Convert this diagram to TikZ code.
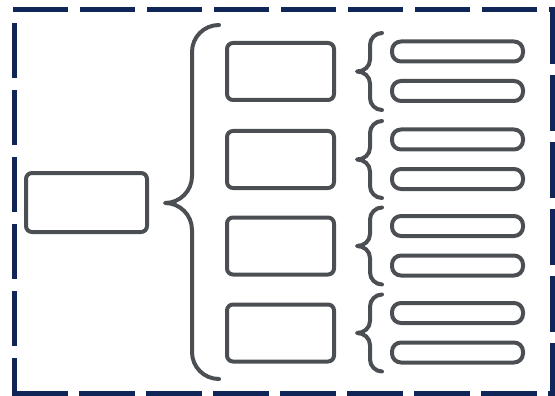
\documentclass[tikz,border=0pt]{standalone}
\definecolor{navy}{HTML}{102659}
\definecolor{shapegray}{HTML}{4B4E53}
\begin{document}
\begin{tikzpicture}[x=1pt,y=-1pt,
  frame/.style={draw=navy,line width=5pt},
  mbox/.style={draw=shapegray,line width=4pt,rounded corners=6pt,minimum width=107pt,minimum height=57pt,inner sep=0pt,outer sep=0pt},
  rootbox/.style={mbox,minimum width=121pt,minimum height=59pt},
  bar/.style={draw=shapegray,line width=4pt,rounded corners=9pt,minimum width=131pt,minimum height=20pt,inner sep=0pt,outer sep=0pt},
  brace/.style={draw=shapegray,line width=4pt,line cap=round,line join=round},
  smallbrace/.pic={\draw[brace] (12,-38.5) .. controls (5.5,-38.5) and (0,-33) .. (0,-26.5) -- (0,-12) .. controls (0,-5) and (-6,0) .. (-13,0) .. controls (-6,0) and (0,5) .. (0,12) -- (0,26.5) .. controls (0,33) and (5.5,38.5) .. (12,38.5);}
]
\useasboundingbox (0,0) rectangle (555,396);
% frame
\draw[frame,dash pattern=on 55pt off 12pt] (13,10) -- (555,10);
\draw[frame,dash pattern=on 56pt off 11pt] (552,8) -- (552,396);
\draw[frame,dash pattern=on 55pt off 12pt] (14,23) -- (14,396);
\draw[frame,dash pattern=on 56pt off 11pt] (12,393) -- (555,393);
% root
\node[rootbox] (root) at (86.5,202.5) {};
% big brace
\draw[brace] (219,25) .. controls (204,25) and (192,37) .. (192,52) -- (192,176) .. controls (192,191) and (180,203) .. (165,203) .. controls (180,203) and (192,215) .. (192,230) -- (192,352) .. controls (192,367) and (204,379) .. (219,379);
% groups
\foreach \i/\c in {1/71.5,2/159.5,3/246,4/333}{
  \node[mbox] (m\i) at (280.5,\c) {};
  \node[bar] (a\i) at (457.5,{\c-20}) {};
  \node[bar] (b\i) at (457.5,{\c+19.5}) {};
  \pic at (370,\c) {smallbrace};
}
\end{tikzpicture}
\end{document}
